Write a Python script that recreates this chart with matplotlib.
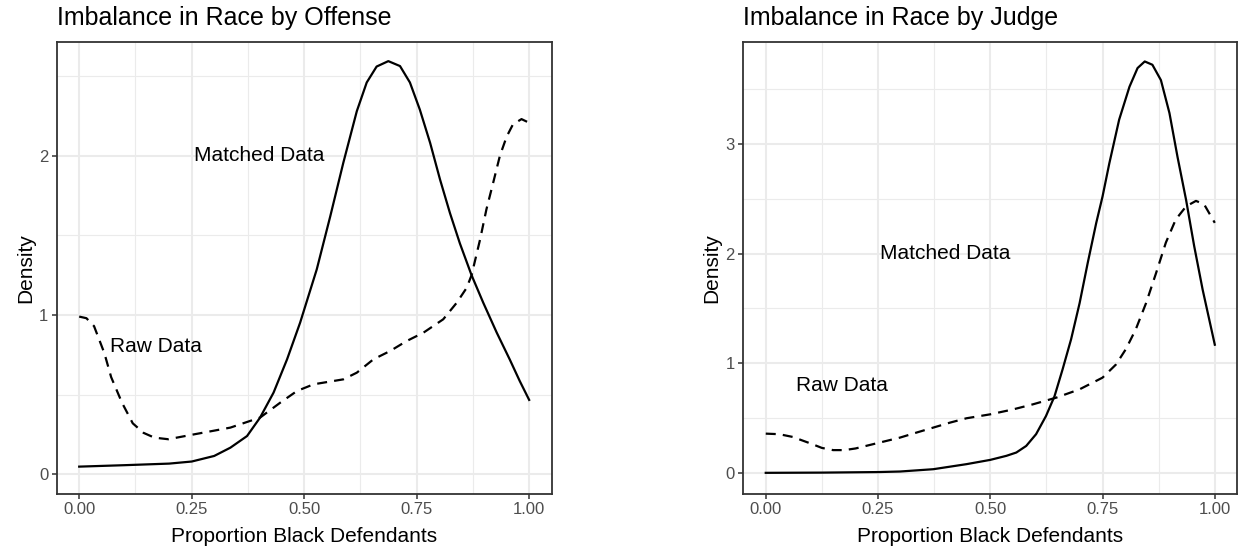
import numpy as np
import matplotlib
matplotlib.use("Agg")
import matplotlib.pyplot as plt
from matplotlib.ticker import MultipleLocator

plt.rcParams['font.family'] = ['Liberation Sans', 'DejaVu Sans']

# Offense panel: density of proportion black defendants
off_matched_x = [0, 0.1, 0.2, 0.25, 0.3, 0.336, 0.373, 0.402, 0.432, 0.462, 0.491, 0.528,
                 0.558, 0.587, 0.617, 0.639, 0.661, 0.687, 0.713, 0.735, 0.757, 0.78,
                 0.802, 0.824, 0.846, 0.872, 0.898, 0.928, 0.957, 0.979, 1.0]
off_matched_y = [0.048, 0.057, 0.067, 0.080, 0.115, 0.167, 0.24, 0.356, 0.513, 0.722,
                 0.952, 1.287, 1.62, 1.956, 2.28, 2.46, 2.56, 2.594, 2.563, 2.46, 2.29,
                 2.08, 1.85, 1.64, 1.45, 1.25, 1.077, 0.889, 0.72, 0.586, 0.467]
off_raw_x = [0, 0.016, 0.033, 0.056, 0.071, 0.095, 0.119, 0.143, 0.167, 0.198, 0.254,
             0.302, 0.336, 0.402, 0.447, 0.484, 0.521, 0.587, 0.617, 0.654, 0.691, 0.728,
             0.765, 0.809, 0.839, 0.861, 0.872, 0.891, 0.905, 0.92, 0.935, 0.95, 0.964,
             0.983, 1.0]
off_raw_y = [0.99, 0.98, 0.93, 0.76, 0.61, 0.45, 0.32, 0.26, 0.23, 0.22, 0.25, 0.275,
             0.293, 0.356, 0.45, 0.523, 0.565, 0.596, 0.638, 0.722, 0.774, 0.837, 0.889,
             0.973, 1.077, 1.17, 1.25, 1.475, 1.663, 1.83, 2.0, 2.12, 2.197, 2.23, 2.207]

# Judge panel
judge_matched_x = [0, 0.125, 0.25, 0.299, 0.373, 0.447, 0.5, 0.536, 0.558, 0.58, 0.602,
                   0.624, 0.643, 0.661, 0.68, 0.699, 0.717, 0.736, 0.75, 0.765, 0.787,
                   0.81, 0.828, 0.844, 0.861, 0.88, 0.899, 0.917, 0.936, 0.954, 0.973, 1.0]
judge_matched_y = [0.003, 0.005, 0.01, 0.015, 0.036, 0.082, 0.121, 0.158, 0.188, 0.248,
                   0.355, 0.52, 0.70, 0.945, 1.22, 1.55, 1.915, 2.28, 2.52, 2.82, 3.22,
                   3.52, 3.69, 3.75, 3.72, 3.58, 3.28, 2.88, 2.49, 2.07, 1.67, 1.17]
judge_raw_x = [0, 0.03, 0.06, 0.1, 0.125, 0.15, 0.175, 0.2, 0.25, 0.299, 0.336, 0.373,
               0.41, 0.447, 0.5, 0.55, 0.595, 0.647, 0.699, 0.75, 0.78, 0.802, 0.824,
               0.847, 0.869, 0.891, 0.913, 0.936, 0.958, 0.976, 1.0]
judge_raw_y = [0.36, 0.355, 0.33, 0.27, 0.23, 0.21, 0.21, 0.225, 0.275, 0.324, 0.37,
               0.415, 0.46, 0.50, 0.536, 0.58, 0.627, 0.688, 0.764, 0.87, 0.99, 1.13,
               1.31, 1.55, 1.82, 2.10, 2.31, 2.43, 2.48, 2.45, 2.28]

titles = ["Imbalance in Race by Offense", "Imbalance in Race by Judge"]
xticks = [0, 0.25, 0.5, 0.75, 1.0]
xticklabels = ["0.00", "0.25", "0.50", "0.75", "1.00"]
label_pos = [(0.4, 2.0), (0.17, 0.8)]

fig = plt.figure(figsize=(12.38, 5.48), dpi=100)
ax1 = fig.add_axes([0.0458, 0.0985, 0.3998, 0.8254])
ax2 = fig.add_axes([0.6004, 0.0985, 0.3990, 0.8254])

panels = [
    (ax1, off_matched_x, off_matched_y, off_raw_x, off_raw_y, (-0.124, 2.716), [0, 1, 2]),
    (ax2, judge_matched_x, judge_matched_y, judge_raw_x, judge_raw_y, (-0.19, 3.93), [0, 1, 2, 3]),
]

for (ax, mx, my, rx, ry, ylim, yticks), title in zip(panels, titles):
    ax.plot(mx, my, color='black', lw=1.6, solid_joinstyle='round')
    ax.plot(rx, ry, color='black', lw=1.6, linestyle=(0, (4.5, 3.2)), dash_capstyle='butt')

    ax.set_xlim(-0.05, 1.05)
    ax.set_ylim(*ylim)
    ax.set_xticks(xticks)
    ax.set_xticklabels(xticklabels)
    ax.set_yticks(yticks)
    ax.xaxis.set_minor_locator(MultipleLocator(0.125))
    ax.yaxis.set_minor_locator(MultipleLocator(0.5))

    ax.grid(which='major', color='#EBEBEB', lw=1.5, zorder=0)
    ax.grid(which='minor', color='#EBEBEB', lw=0.8, zorder=0)
    ax.set_axisbelow(True)
    ax.tick_params(which='minor', length=0)
    ax.tick_params(which='major', length=3.5, width=1.1, color='#333333',
                   labelcolor='#4D4D4D', labelsize=12, pad=2.5)
    for sp in ax.spines.values():
        sp.set_color('#333333')
        sp.set_linewidth(1.3)

    ax.text(*label_pos[0], "Matched Data", ha='center', va='center', fontsize=15)
    ax.text(*label_pos[1], "Raw Data", ha='center', va='center', fontsize=15)

    ax.set_xlabel("Proportion Black Defendants", fontsize=15, labelpad=7)
    ax.set_ylabel("Density", fontsize=15, labelpad=3)
    ax.set_title(title, loc='left', fontsize=18, pad=12)

fig.savefig("out.png", dpi=100)
